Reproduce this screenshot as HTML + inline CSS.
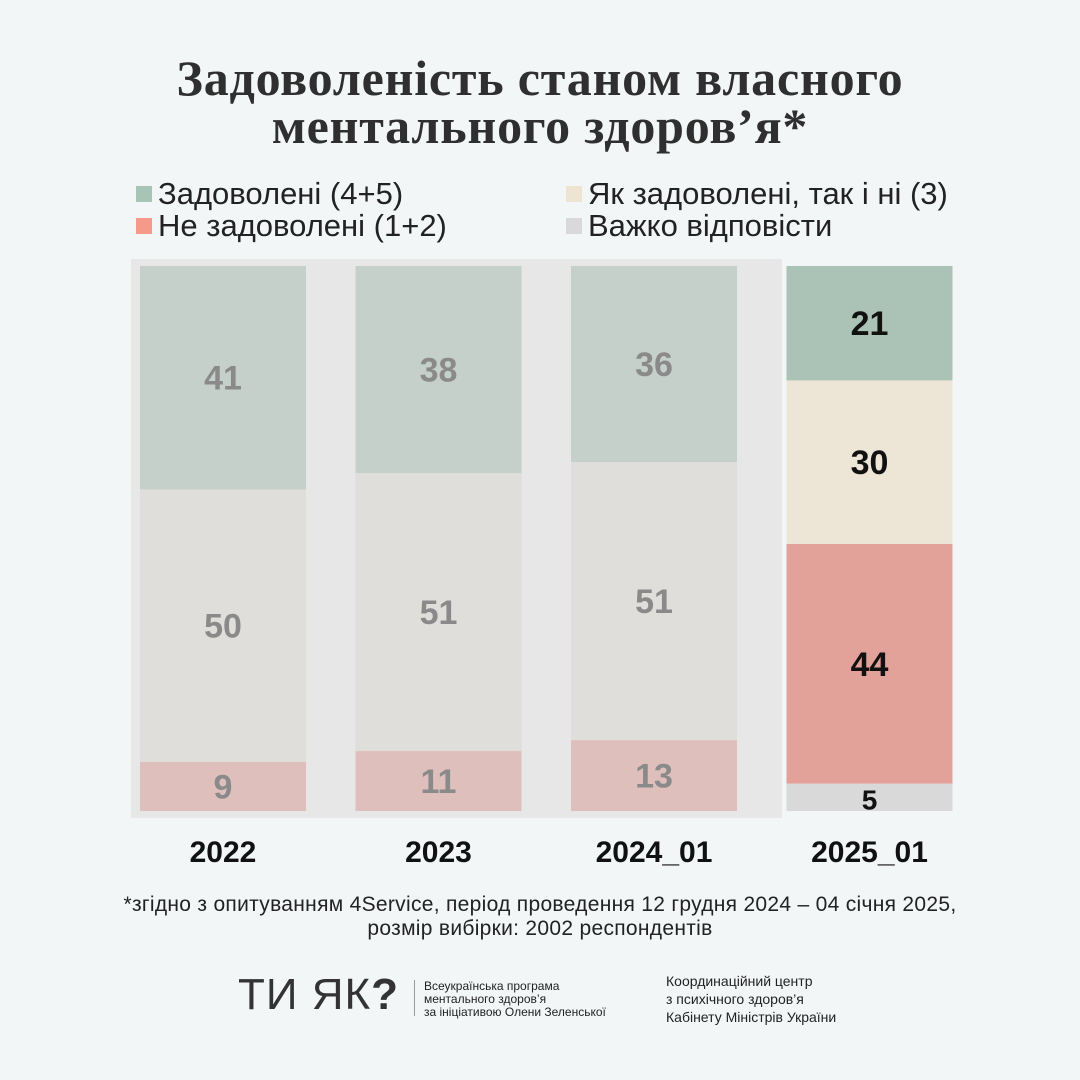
<!DOCTYPE html>
<html><head><meta charset="utf-8"><style>
body{margin:0;width:1080px;height:1080px;background:#f3f6f7;font-family:"Liberation Sans",sans-serif;position:relative;overflow:hidden}
.t{position:absolute;left:0;width:1080px;text-align:center;font-family:"Liberation Serif",serif;font-weight:bold;font-size:50px;letter-spacing:0.8px;color:#2f2f2f;line-height:48px}
.lg{position:absolute;font-size:31px;color:#222;line-height:32px}
.lg i{display:inline-block;width:16px;height:16px;margin-right:6px;vertical-align:2px}
.foot{position:absolute;left:0;width:1080px;text-align:center;font-size:21px;letter-spacing:0.3px;color:#222;line-height:24px}
</style></head><body>
<div class="t" style="top:54px">Задоволеність станом власного<br>ментального здоров’я*</div>
<div class="lg" style="left:136px;top:178px"><i style="background:#a8c4b4"></i>Задоволені (4+5)</div>
<div class="lg" style="left:566px;top:178px"><i style="background:#ede5d2"></i>Як задоволені, так і ні (3)</div>
<div class="lg" style="left:136px;top:210px"><i style="background:#f59a8a"></i>Не задоволені (1+2)</div>
<div class="lg" style="left:566px;top:210px"><i style="background:#d9d9d9"></i>Важко відповісти</div>
<svg id="c" width="1080" height="1080" style="position:absolute;left:0;top:0"></svg>
<div class="foot" style="top:893px">*згідно з опитуванням 4Service, період проведення 12 грудня 2024 – 04 січня 2025,<br>розмір вибірки: 2002 респондентів</div>
<div style="position:absolute;left:238px;top:970px;font-size:44px;color:#333;letter-spacing:1px">ТИ ЯК<span style="font-weight:bold">?</span></div>
<div style="position:absolute;left:414px;top:980px;width:1px;height:36px;background:#999"></div>
<div style="position:absolute;left:424px;top:980px;font-size:12px;line-height:13px;color:#222">Всеукраїнська програма<br>ментального здоров’я<br>за ініціативою Олени Зеленської</div>
<div style="position:absolute;left:666px;top:972px;font-size:14px;line-height:18px;color:#222">Координаційний центр<br>з психічного здоров’я<br>Кабінету Міністрів України</div>
<script>
const categories=["2022","2023","2024_01","2025_01"];
const satisfied=[41,38,36,21];
const neutral=[50,51,51,30];
const unsatisfied=[9,11,13,44];
const hardToSay=[0,0,0,5];
const svg=document.getElementById('c');const NS='http://www.w3.org/2000/svg';
const top0=266,bot=811,barW=166;
const xs=i=>140+i*215.5;
const y=v=>top0+(v/100)*(bot-top0);
const bg=document.createElementNS(NS,'rect');
bg.setAttribute('x',131);bg.setAttribute('y',259);bg.setAttribute('width',651);bg.setAttribute('height',559);bg.setAttribute('fill','#e6e7e6');


svg.appendChild(bg);
const series=[["satisfied",satisfied,"#c5d0ca","#abc2b6"],["neutral",neutral,"#dfdeda","#ede6d6"],["unsatisfied",unsatisfied,"#dfbfbc","#e2a29a"],["hard-to-say",hardToSay,"#e0e0e0","#d9d9d9"]];
categories.forEach((c,i)=>{
  let acc=0;const last=i===categories.length-1;
  series.forEach(([n,arr,cf,cl])=>{
    const v=arr[i];if(!v)return;
    const r=document.createElementNS(NS,'rect');
    r.setAttribute('x',xs(i));r.setAttribute('y',y(acc));r.setAttribute('width',barW);r.setAttribute('height',y(acc+v)-y(acc));r.setAttribute('fill',last?cl:cf);
    
    
    svg.appendChild(r);
    const t=document.createElementNS(NS,'text');
    t.setAttribute('x',xs(i)+barW/2);t.setAttribute('y',(y(acc)+y(acc+v))/2+12);t.setAttribute('text-anchor','middle');
    t.setAttribute('font-size',v<7?28:34);t.setAttribute('font-weight','bold');t.setAttribute('fill',last?'#111':'#8a8a8a');t.setAttribute('font-family','Liberation Sans, sans-serif');
    t.textContent=v;
    
    
    svg.appendChild(t);
    acc+=v;
  });
  const l=document.createElementNS(NS,'text');
  l.setAttribute('x',xs(i)+barW/2);l.setAttribute('y',862);l.setAttribute('text-anchor','middle');l.setAttribute('font-size',30);l.setAttribute('font-weight','bold');l.setAttribute('fill','#111');l.setAttribute('font-family','Liberation Sans, sans-serif');
  l.textContent=c;
  
  
  svg.appendChild(l);
});
</script>
</body></html>
